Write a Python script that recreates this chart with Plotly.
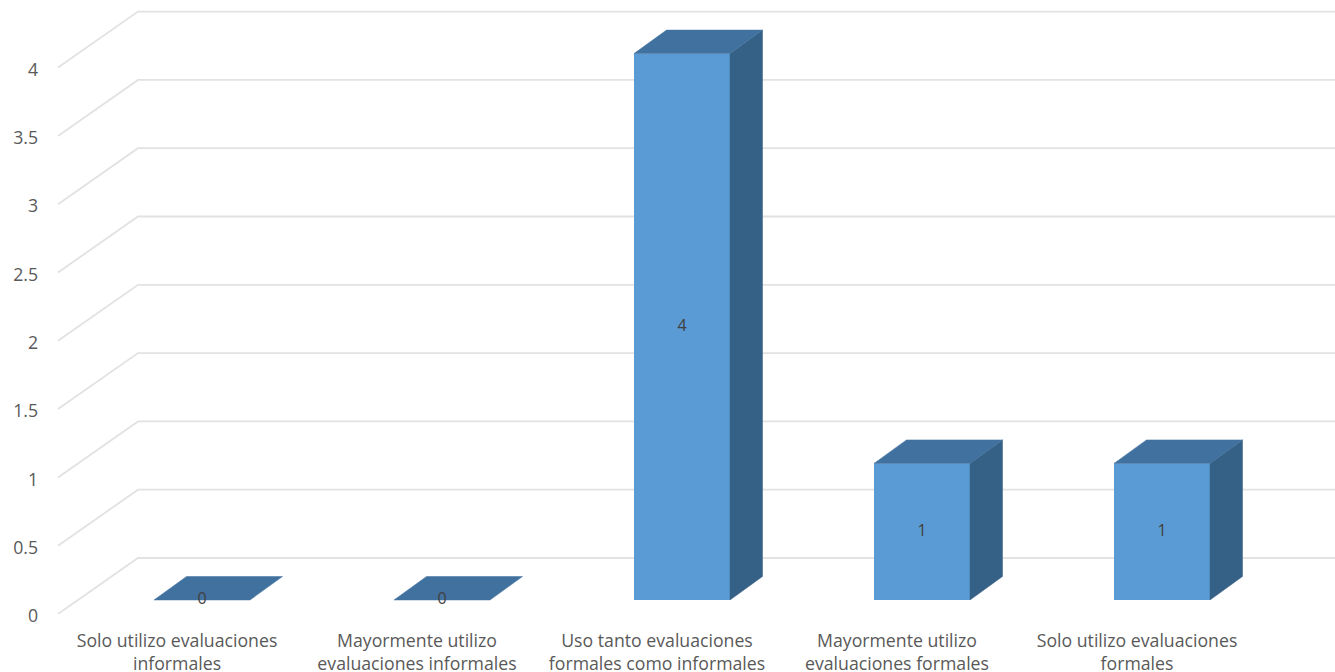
import plotly.graph_objects as go

categories = [
    "Solo utilizo evaluaciones<br>informales",
    "Mayormente utilizo<br>evaluaciones informales",
    "Uso tanto evaluaciones<br>formales como informales",
    "Mayormente utilizo<br>evaluaciones formales",
    "Solo utilizo evaluaciones<br>formales",
]
values = [0, 0, 4, 1, 1]
y_ticks = [0, 0.5, 1, 1.5, 2, 2.5, 3, 3.5, 4]
y_tick_labels = ["0", "0.5", "1", "1.5", "2", "2.5", "3", "3.5", "4"]

W, H = 1335, 672
ML, MB = 56, 58
PX_X = 240.0
PX_Y = 136.6
X0 = -(177 - ML) / PX_X
X1 = X0 + (W - ML) / PX_X
Y1 = (H - MB) / PX_Y


def ux(px):
    return px / PX_X


def uy(px):
    return px / PX_Y


FONT = "Open Sans"
TXT = "#595959"
GRID = "#E2E2E2"
FRONT = "#5B9BD5"
TOP = "#41719F"
SIDE = "#366186"

WALL_DX, WALL_DY = ux(82), uy(56)
BAR_DX, BAR_DY = ux(25), uy(14)
DEPTH_DX, DEPTH_DY = ux(32.5), uy(23.5)
BAR_W = ux(96)

idx = list(range(len(values)))
fig = go.Figure()

# back wall and left wall gridlines, below all traces
for t in y_ticks:
    path = (
        f"M {X0 + ux(2)} {t} "
        f"L {X0 + WALL_DX} {t + WALL_DY} "
        f"L {X1} {t + WALL_DY}"
    )
    fig.add_shape(type="path", path=path, xref="x", yref="y", layer="below",
                  line=dict(color=GRID, width=1.8))

# top and side faces
for i, v in zip(idx, values):
    xl = i + BAR_DX - BAR_W / 2
    xr = i + BAR_DX + BAR_W / 2
    yb = BAR_DY
    yt = BAR_DY + v
    if v > 0:
        fig.add_trace(go.Scatter(
            x=[xr, xr + DEPTH_DX, xr + DEPTH_DX, xr, xr],
            y=[yb, yb + DEPTH_DY, yt + DEPTH_DY, yt, yb],
            mode="lines", fill="toself", fillcolor=SIDE,
            line=dict(color=SIDE, width=0.5),
            hoverinfo="skip", showlegend=False,
        ))
    fig.add_trace(go.Scatter(
        x=[xl, xr, xr + DEPTH_DX, xl + DEPTH_DX, xl],
        y=[yt, yt, yt + DEPTH_DY, yt + DEPTH_DY, yt],
        mode="lines", fill="toself", fillcolor=TOP,
        line=dict(color=TOP, width=0.5),
        hoverinfo="skip", showlegend=False,
    ))

# front faces
fig.add_trace(go.Bar(
    x=[i + BAR_DX for i in idx], y=values,
    base=[BAR_DY] * len(values), width=BAR_W,
    marker=dict(color=FRONT, line=dict(width=0)),
    showlegend=False,
))

# data labels
fig.add_trace(go.Scatter(
    x=[i + BAR_DX for i in idx],
    y=[BAR_DY + v / 2 for v in values],
    mode="text", text=[str(v) for v in values],
    textposition="middle center",
    textfont=dict(family=FONT, size=16, color="#404040"),
    hoverinfo="skip", showlegend=False,
))

fig.update_layout(
    width=W, height=H,
    autosize=False,
    margin=dict(l=ML, r=0, t=0, b=MB, pad=0),
    paper_bgcolor="white", plot_bgcolor="white",
    showlegend=False,
    xaxis=dict(
        range=[X0, X1], tickmode="array", tickvals=idx, ticktext=categories,
        showgrid=False, zeroline=False, showline=False, ticks="",
        tickfont=dict(family=FONT, size=17.7, color=TXT),
        tickangle=0, automargin=False, ticklabelstandoff=14,
    ),
    yaxis=dict(
        range=[0, Y1], tickmode="array", tickvals=y_ticks, ticktext=y_tick_labels,
        showgrid=False, zeroline=False, showline=False, ticks="",
        tickfont=dict(family=FONT, size=17.7, color=TXT),
        automargin=False, ticklabelstandoff=17, ticklabelshift=2,
    ),
)

fig.write_html(
    "out.html",
    config=dict(displayModeBar=False),
    post_script="document.body.style.margin='0';"
                "document.documentElement.style.overflow='hidden';",
)
